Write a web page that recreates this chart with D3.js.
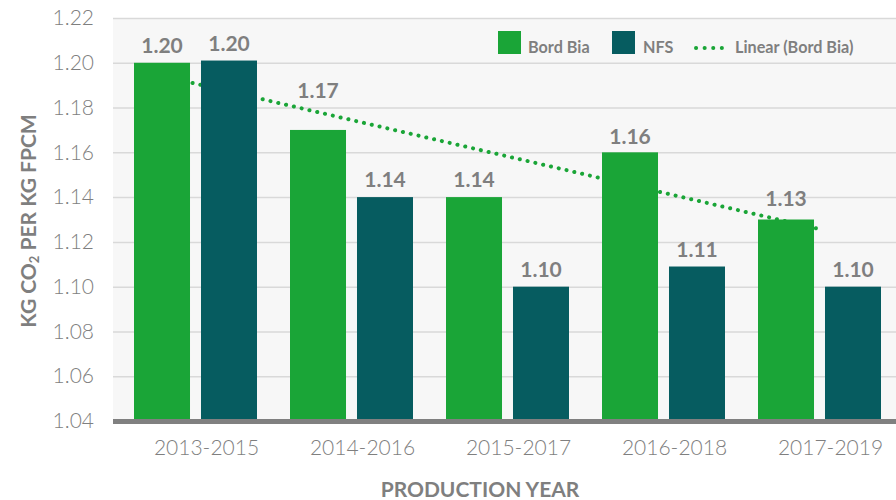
<!DOCTYPE html>
<html>
<head>
<meta charset="utf-8">
<script src="https://cdn.jsdelivr.net/npm/d3@7"></script>
<style>
  body { margin: 0; background: #fff; }
  svg { display: block; font-family: Lato, "Open Sans", sans-serif; }
</style>
</head>
<body>
<svg id="canvas" width="896" height="500"></svg>
<script>
// chart data
let categories = ['2013-2015', '2014-2016', '2015-2017', '2016-2018', '2017-2019'];
let seriesNames = ['Bord Bia', 'NFS'];
let bordBia = [1.20, 1.17, 1.14, 1.16, 1.13];
let nfs = [1.201, 1.14, 1.10, 1.109, 1.10];
let yTicks = [1.04, 1.06, 1.08, 1.10, 1.12, 1.14, 1.16, 1.18, 1.20, 1.22];
// linear trend of Bord Bia, value at first and last category
let trendBordBia = [1.191, 1.126];

let colors = { 'Bord Bia': '#1aa537', 'NFS': '#065c60' };
let textGray = '#7f7f7f';

let plot = { left: 113, right: 896, top: 18, bottom: 421 };

let canvas = d3.select('#canvas');

let x0 = d3.scaleBand()
           .domain(categories)
           .range([117.5, 897.5]);
let x1 = d3.scaleBand()
           .domain(seriesNames)
           .range([16.5, 139.5])
           .paddingInner(0.164);
let y = d3.scaleLinear()
          .domain([1.04, 1.22])
          .range([plot.bottom, plot.top]);

// plot background
canvas.append('rect')
      .attr('x', plot.left)
      .attr('y', plot.top)
      .attr('width', plot.right - plot.left)
      .attr('height', plot.bottom - plot.top)
      .attr('fill', '#f7f7f7');

// y axis with gridlines
let yAxis = canvas.append('g')
                  .attr('transform', 'translate(' + plot.left + ',0)')
                  .call(d3.axisLeft(y)
                          .tickValues(yTicks)
                          .tickFormat(d3.format('.2f'))
                          .tickSize(-(plot.right - plot.left))
                          .tickPadding(19));
yAxis.select('.domain').remove();
yAxis.selectAll('line').attr('stroke', '#d9d9d9').attr('stroke-width', 1.5);
yAxis.selectAll('text')
     .attr('fill', textGray)
     .attr('font-family', 'Lato')
     .attr('font-weight', 300)
     .attr('font-size', 21);

// trend line sits behind the bars
let lastCat = categories[categories.length - 1];
let trendPts = [
  [x0(categories[0]) + x0.bandwidth() / 2 - 3, trendBordBia[0]],
  [x0(lastCat) + x0.bandwidth() / 2 - 3, trendBordBia[1]]
];
canvas.append('path')
      .datum(trendPts)
      .attr('d', d3.line().x((d) => d[0]).y((d) => y(d[1])))
      .attr('fill', 'none')
      .attr('stroke', colors['Bord Bia'])
      .attr('stroke-width', 4)
      .attr('stroke-linecap', 'round')
      .attr('stroke-dasharray', '0.1 7.9');

// bars
let rows = categories.map((c, i) => ({ cat: c, values: [
  { name: 'Bord Bia', value: bordBia[i] },
  { name: 'NFS', value: nfs[i] }
]}));

let groups = canvas.selectAll('g.group')
                   .data(rows)
                   .enter()
                   .append('g')
                   .attr('class', 'group')
                   .attr('transform', (d) => 'translate(' + x0(d.cat) + ',0)');

groups.selectAll('rect')
      .data((d) => d.values)
      .enter()
      .append('rect')
      .attr('x', (d) => x1(d.name))
      .attr('y', (d) => y(d.value))
      .attr('width', x1.bandwidth())
      .attr('height', (d) => y(1.04) - y(d.value))
      .attr('fill', (d) => colors[d.name]);

// value labels, a few lifted to clear the trend line
let lift = { '2014-2016|Bord Bia': 22, '2017-2019|Bord Bia': 3.5, '2016-2018|Bord Bia': -1.5 };
groups.selectAll('text.value')
      .data((d) => d.values.map((v) => ({ ...v, cat: d.cat })))
      .enter()
      .append('text')
      .attr('class', 'value')
      .attr('x', (d) => x1(d.name) + x1.bandwidth() / 2)
      .attr('y', (d) => y(d.value) - 10 - (lift[d.cat + '|' + d.name] || 0))
      .attr('text-anchor', 'middle')
      .attr('fill', textGray)
      .attr('font-weight', 700)
      .attr('font-size', 21)
      .text((d) => d.value.toFixed(2));

// baseline
canvas.append('line')
      .attr('x1', plot.left)
      .attr('x2', plot.right)
      .attr('y1', y(1.04) + 0.5)
      .attr('y2', y(1.04) + 0.5)
      .attr('stroke', '#808080')
      .attr('stroke-width', 5);

// x axis labels
let xAxis = canvas.append('g')
                  .attr('transform', 'translate(0,' + plot.bottom + ')')
                  .call(d3.axisBottom(x0).tickSize(0));
xAxis.select('.domain').remove();
xAxis.selectAll('text')
     .attr('y', 34)
     .attr('dy', 0)
     .attr('dx', 11)
     .attr('fill', textGray)
     .attr('font-family', 'Lato')
     .attr('font-weight', 300)
     .attr('font-size', 21);

// axis titles
canvas.append('text')
      .attr('x', 480)
      .attr('y', 497)
      .attr('text-anchor', 'middle')
      .attr('fill', textGray)
      .attr('font-weight', 700)
      .attr('font-size', 21)
      .text('PRODUCTION YEAR');

let yTitle = canvas.append('text')
                   .attr('transform', 'translate(36,221) rotate(-90)')
                   .attr('text-anchor', 'middle')
                   .attr('fill', textGray)
                   .attr('font-weight', 700)
                   .attr('font-size', 21);
yTitle.append('tspan').text('KG CO');
yTitle.append('tspan').attr('font-size', 13).attr('dy', 3).text('2');
yTitle.append('tspan').attr('dy', -3).text(' PER KG FPCM');

// legend
let legend = canvas.append('g').attr('font-weight', 700).attr('font-size', 16.2).attr('fill', textGray);
let legendItems = [
  { name: 'Bord Bia', x: 498, textX: 528 },
  { name: 'NFS', x: 612, textX: 643 }
];
legend.selectAll('rect')
      .data(legendItems)
      .enter()
      .append('rect')
      .attr('x', (d) => d.x)
      .attr('y', 31)
      .attr('width', 23)
      .attr('height', 23)
      .attr('fill', (d) => colors[d.name]);
legend.selectAll('text')
      .data(legendItems)
      .enter()
      .append('text')
      .attr('x', (d) => d.textX)
      .attr('y', 53)
      .text((d) => d.name);
legend.append('line')
      .attr('x1', 696)
      .attr('x2', 722)
      .attr('y1', 48)
      .attr('y2', 48)
      .attr('stroke', colors['Bord Bia'])
      .attr('stroke-width', 4)
      .attr('stroke-linecap', 'round')
      .attr('stroke-dasharray', '0.1 8.5');
legend.append('text')
      .attr('x', 735)
      .attr('y', 53)
      .text('Linear (Bord Bia)');
</script>
</body>
</html>
